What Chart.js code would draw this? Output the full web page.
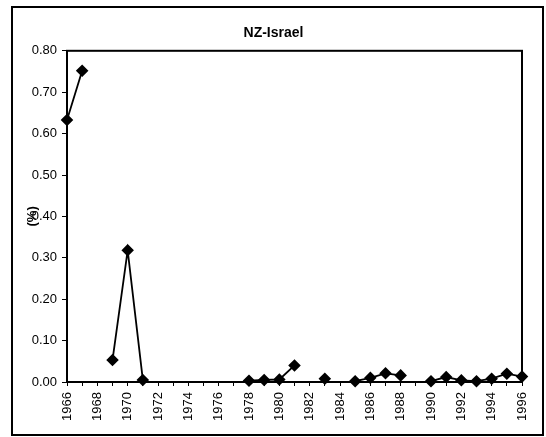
<!DOCTYPE html>
<html>
<head>
<meta charset="utf-8">
<script src="https://cdn.jsdelivr.net/npm/chart.js@4/dist/chart.umd.min.js"></script>
<style>
  html, body { margin: 0; padding: 0; background: #fff; }
  #wrap { width: 546px; height: 437px; position: relative; }
</style>
</head>
<body>
<div id="wrap"><canvas id="chart" width="546" height="437"></canvas></div>
<script>
const years = [
  '1966', '1967', '1968', '1969', '1970', '1971', '1972', '1973', '1974', '1975', '1976',
  '1977', '1978', '1979', '1980', '1981', '1982', '1983', '1984', '1985', '1986',
  '1987', '1988', '1989', '1990', '1991', '1992', '1993', '1994', '1995', '1996',
];

// share in percent, null where the series has no value
const nzIsrael = [
  0.633, 0.752, null, 0.053, 0.318, 0.005, null, null, null, null, null,
  null, 0.003, 0.005, 0.006, 0.040, null, 0.008, null, 0.002, 0.010,
  0.021, 0.016, null, 0.002, 0.012, 0.004, 0.002, 0.008, 0.020, 0.013,
];

const yTicks = [0, 0.1, 0.2, 0.3, 0.4, 0.5, 0.6, 0.7, 0.8];

const FONT = 'Liberation Sans, Arial, sans-serif';

const frames = {
  id: 'frames',
  beforeDraw(chart) {
    const { ctx } = chart;
    ctx.save();
    ctx.fillStyle = '#fff';
    ctx.fillRect(0, 0, chart.width, chart.height);
    ctx.restore();
  },
  afterDraw(chart) {
    const { ctx, chartArea } = chart;
    ctx.save();
    ctx.strokeStyle = '#000';
    ctx.lineWidth = 2;
    ctx.strokeRect(12, 7, 531, 428);
    ctx.strokeRect(chartArea.left, chartArea.top,
      chartArea.right - chartArea.left, chartArea.bottom - chartArea.top);
    ctx.restore();
  },
};

new Chart(document.getElementById('chart'), {
  type: 'line',
  data: {
    labels: years,
    datasets: [{
      label: 'NZ-Israel',
      data: nzIsrael,
      borderColor: '#000',
      backgroundColor: '#000',
      borderWidth: 1.8,
      pointStyle: 'rectRot',
      pointRadius: 5,
      pointBackgroundColor: '#000',
      pointBorderColor: '#000',
      spanGaps: false,
      tension: 0,
      clip: false,
    }],
  },
  options: {
    responsive: false,
    animation: false,
    layout: { padding: { top: 20, left: 25, right: 24, bottom: 15 } },
    plugins: {
      legend: { display: false },
      tooltip: { enabled: false },
      title: {
        display: true,
        text: 'NZ-Israel',
        color: '#000',
        font: { family: FONT, size: 14, weight: 'bold' },
        padding: { top: 5, bottom: 9 },
      },
    },
    scales: {
      x: {
        type: 'category',
        offset: false,
        border: { display: true, color: '#000', width: 2 },
        grid: { display: true, drawOnChartArea: false, color: '#000', tickLength: 4 },
        ticks: {
          autoSkip: false,
          minRotation: 90,
          maxRotation: 90,
          padding: 6,
          color: '#000',
          font: { family: FONT, size: 13 },
          callback: (value, index) => (index % 2 === 0 ? years[index] : ''),
        },
        afterFit: (scale) => { scale.height = 40; },
      },
      y: {
        min: 0,
        max: 0.8,
        border: { display: true, color: '#000', width: 2 },
        grid: { display: true, drawOnChartArea: false, color: '#000', tickLength: 5 },
        afterBuildTicks: (scale) => { scale.ticks = yTicks.map((v) => ({ value: v })); },
        ticks: {
          padding: 5,
          color: '#000',
          font: { family: FONT, size: 13 },
          callback: (value) => Number(value).toFixed(2),
        },
        title: {
          display: true,
          text: '(%)',
          color: '#000',
          font: { family: FONT, size: 13, weight: 'bold' },
          padding: 0,
        },
        afterFit: (scale) => { scale.width = 42; },
      },
    },
  },
  plugins: [frames],
});
</script>
</body>
</html>
